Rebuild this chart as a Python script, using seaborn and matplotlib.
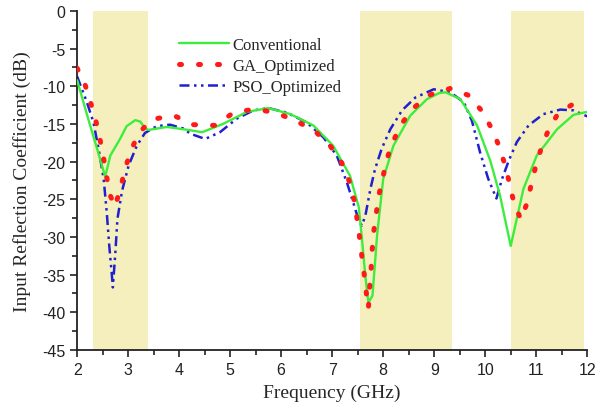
import numpy as np
import pandas as pd
import seaborn as sns
import matplotlib.pyplot as plt
from matplotlib.ticker import MultipleLocator

# --------------------------------------------------
# Data
# --------------------------------------------------

conv_freq = [2.0, 2.25, 2.4, 2.55, 2.65, 2.84, 2.97, 3.14, 3.24, 3.33, 3.40, 3.76,
             4.18, 4.45, 4.86, 5.33, 5.75, 6.18, 6.63, 7.02, 7.35, 7.52, 7.58, 7.65,
             7.71, 7.79, 7.88, 8.0, 8.20, 8.53, 8.86, 9.1, 9.22, 9.51, 9.84, 10.1,
             10.29, 10.50, 10.75, 11.01, 11.41, 11.73, 12.0]
conv_s11 = [-9.2, -15.1, -18.5, -22.0, -19.2, -17.0, -15.3, -14.5, -14.7, -15.6, -15.8, -15.4,
            -15.8, -16.1, -15.0, -13.4, -12.9, -13.7, -15.2, -17.9, -21.9, -26.0, -30.0, -35.2,
            -38.7, -37.8, -29.8, -22.3, -17.9, -13.9, -11.7, -10.9, -10.8, -11.7, -15.2, -19.9,
            -24.5, -31.2, -23.6, -19.2, -15.7, -13.8, -13.4]

ga_freq = [2.00, 2.16, 2.27, 2.37, 2.45, 2.52, 2.58, 2.65, 2.74, 2.86, 2.94, 3.06, 3.20,
           3.46, 3.90, 4.28, 4.70, 5.07, 5.50, 5.93, 6.32, 6.67, 6.97, 7.19, 7.34, 7.43,
           7.51, 7.58, 7.63, 7.67, 7.71, 7.73, 7.76, 7.78, 7.81, 7.86, 7.91, 7.99, 8.07,
           8.19, 8.35, 8.56, 8.89, 9.31, 9.67, 9.95, 10.14, 10.28, 10.39, 10.48, 10.56,
           10.70, 10.82, 10.90, 10.99, 11.10, 11.24, 11.43, 11.81, 11.95]
ga_s11 = [-7.6, -9.9, -12.3, -14.7, -17.1, -19.6, -22.1, -24.5, -26.0, -23.3, -20.9, -18.5, -16.3,
          -14.4, -13.9, -15.1, -15.2, -13.5, -13.0, -13.6, -14.7, -16.0, -18.0, -20.2, -22.7, -25.1,
          -28.6, -32.5, -35.1, -37.5, -39.5, -37.0, -34.6, -32.1, -29.5, -27.1, -24.6, -22.2, -19.7,
          -17.4, -15.1, -13.1, -11.2, -10.3, -11.2, -13.4, -15.8, -18.1, -20.5, -23.0, -25.4,
          -27.7, -25.5, -23.1, -20.6, -18.2, -15.8, -13.6, -12.0, -11.9]

pso_freq = [2.0, 2.19, 2.32, 2.42, 2.52, 2.58, 2.63, 2.68, 2.70, 2.75, 2.79, 2.88, 3.01,
            3.17, 3.33, 3.56, 3.82, 4.08, 4.22, 4.51, 4.80, 5.13, 5.46, 5.75, 6.11, 6.50,
            6.83, 7.09, 7.29, 7.42, 7.52, 7.58, 7.65, 7.75, 7.84, 7.97, 8.14, 8.37, 8.63,
            8.99, 9.31, 9.58, 9.74, 9.90, 10.06, 10.22, 10.33, 10.46, 10.62, 10.85, 11.14,
            11.47, 11.73, 12.0]
pso_s11 = [-8.7, -12.1, -14.8, -18.3, -22.3, -26.7, -31.2, -35.0, -36.7, -32.0, -27.6, -23.9, -20.5,
           -17.9, -16.2, -15.3, -15.1, -15.6, -16.3, -17.0, -16.1, -14.3, -13.2, -12.9, -13.5, -14.8,
           -16.8, -19.2, -22.8, -25.6, -27.8, -28.5, -27.2, -23.6, -21.0, -18.3, -15.7, -13.2, -11.5,
           -10.4, -10.8, -12.1, -14.6, -18.8, -22.3, -24.9, -22.3, -19.9, -17.4, -15.2, -13.7,
           -13.1, -13.2, -14.0]

# operating bands (GHz)
band_start = [2.32, 7.55, 10.50]
band_stop = [3.39, 9.35, 11.93]

conv_df = pd.DataFrame({'freq': conv_freq, 's11': conv_s11})
ga_df = pd.DataFrame({'freq': ga_freq, 's11': ga_s11})
pso_df = pd.DataFrame({'freq': pso_freq, 's11': pso_s11})

# --------------------------------------------------
# Plot
# --------------------------------------------------

sns.set_style("ticks")
plt.rcParams['font.family'] = ['Liberation Sans', 'DejaVu Sans']
plt.rcParams['axes.unicode_minus'] = False
plt.rcParams['xtick.direction'] = 'out'
plt.rcParams['ytick.direction'] = 'out'

fig, ax = plt.subplots(figsize=(5.98, 4.10), dpi=100)
fig.subplots_adjust(left=0.129, right=0.982, top=0.971, bottom=0.144)

for lo, hi in zip(band_start, band_stop):
    ax.axvspan(lo, hi, color='#f5efbd', lw=0, zorder=0)

sns.lineplot(data=conv_df, x='freq', y='s11', ax=ax, color='#3ded3d', lw=1.7,
             label='Conventional', zorder=3)
sns.lineplot(data=ga_df, x='freq', y='s11', ax=ax, color='#ff1a1a', lw=3.6,
             linestyle=(0, (0.4, 3.4)), dash_capstyle='round', label='GA_Optimized', zorder=4)
sns.lineplot(data=pso_df, x='freq', y='s11', ax=ax, color='#2020d0', lw=1.8,
             linestyle=(0, (4, 1.8, 1, 1.8, 1, 1.8)), label='PSO_Optimized', zorder=2)

ax.set_xlim(2, 12)
ax.set_ylim(-45, 0)
ax.xaxis.set_major_locator(MultipleLocator(1))
ax.xaxis.set_minor_locator(MultipleLocator(0.5))
ax.yaxis.set_major_locator(MultipleLocator(5))
ax.yaxis.set_minor_locator(MultipleLocator(2.5))
ax.tick_params(which='major', length=5, width=1.2, labelsize=11.5, colors='#222222')
ax.tick_params(which='minor', length=3.5, width=1.2, colors='#222222')

ax.set_xlabel("Frequency (GHz)", family=['Liberation Serif'], fontsize=14, labelpad=5)
ax.set_ylabel("Input Reflection Coefficient (dB)", family=['Liberation Serif'], fontsize=14, labelpad=8)

sns.despine(ax=ax)
for side in ['left', 'bottom']:
    ax.spines[side].set_linewidth(1.3)
    ax.spines[side].set_color('#222222')

leg = ax.legend(loc='upper left', bbox_to_anchor=(0.17, 0.968), frameon=False,
                handlelength=3.0, handletextpad=0.2, labelspacing=0.3,
                prop={'family': 'Liberation Serif', 'size': 12})

plt.savefig('out.png', dpi=100)
